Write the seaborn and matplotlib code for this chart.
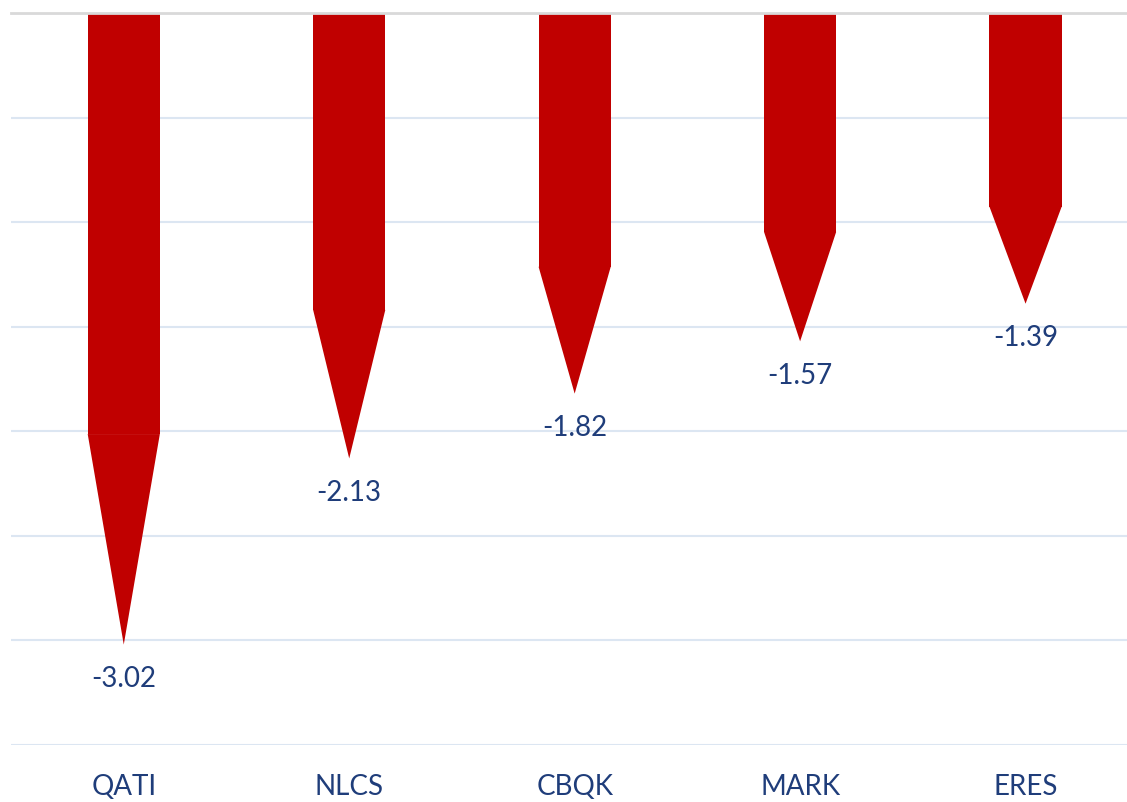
import numpy as np
import pandas as pd
import matplotlib
matplotlib.use('Agg')
import matplotlib.pyplot as plt
import seaborn as sns

tickers = ['QATI', 'NLCS', 'CBQK', 'MARK', 'ERES']
changes = [-3.02, -2.13, -1.82, -1.57, -1.39]

red = '#C00000'
navy = '#1F3D7A'
bar_w = 0.32
body_frac = 2 / 3   # share of the arrow that is the straight shaft

sns.set_style('white')
plt.rcParams['font.family'] = ['Lato', 'DejaVu Sans']

df = pd.DataFrame({'ticker': tickers, 'change': changes})
df['shaft'] = df['change'] * body_frac

fig = plt.figure(figsize=(11.27, 8.02), dpi=100)
ax = fig.add_axes([0.0098, 0.0711, 0.9902, 0.9127])

sns.barplot(data=df, x='ticker', y='shaft', color=red, saturation=1,
            width=bar_w, edgecolor='none', linewidth=0, ax=ax)

# arrow heads
for i, row in df.iterrows():
    ax.fill([i - bar_w / 2, i + bar_w / 2, i], [row['shaft'], row['shaft'], row['change']],
            color=red, linewidth=0, zorder=3)
    ax.annotate(f"{row['change']:.2f}", (i, row['change']), xytext=(0, -25),
                textcoords='offset points', ha='center', va='center',
                fontsize=20, color=navy)

ax.set_ylim(-3.5, 0)
ax.set_xlim(-0.5, 4.45)
ax.set_yticks(np.arange(-3.5, 0.01, 0.5))
ax.yaxis.grid(True, color='#DCE6F2', linewidth=1.5)
ax.set_axisbelow(True)
ax.tick_params(axis='y', left=False, labelleft=False)
ax.tick_params(axis='x', bottom=False, length=0, labelsize=20, labelcolor=navy, pad=21)
ax.set_xlabel('')
ax.set_ylabel('')
for s in ['left', 'right', 'bottom']:
    ax.spines[s].set_visible(False)
ax.spines['top'].set_color('#D9D9D9')
ax.spines['top'].set_linewidth(2)

fig.savefig('out.png', dpi=100)
